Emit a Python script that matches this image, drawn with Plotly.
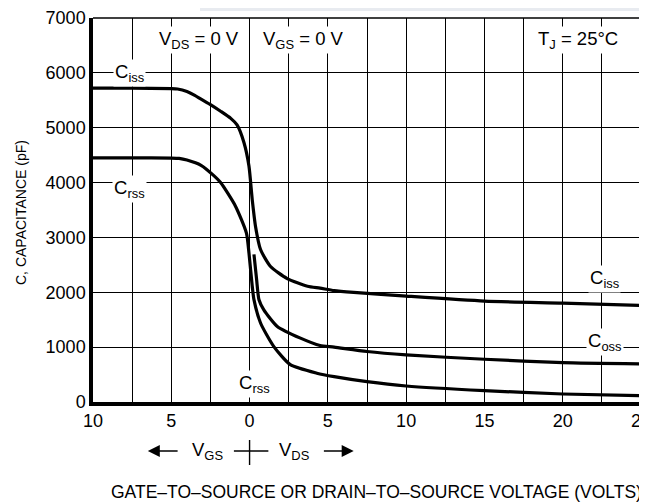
import plotly.graph_objects as go

# ---- data (signed voltage: negative = V_GS side, positive = V_DS side) ----
ciss_v = [-10, -7.5, -5, -4.6, -4, -3.5, -3.1, -2.5, -1.85, -1.2, -0.8, -0.36, -0.04, 0.17, 0.38, 0.7, 1.34, 2.4, 3.7, 4.5, 5.4, 6.65, 10, 15, 20, 25]
ciss_c = [5720, 5720, 5712, 5705, 5660, 5590, 5520, 5420, 5300, 5170, 5050, 4730, 4300, 3690, 3200, 2780, 2470, 2250, 2110, 2075, 2030, 1998, 1930, 1840, 1803, 1760]

crss_v = [-10, -7.5, -5, -4.5, -4, -3.1, -2.3, -1.85, -0.9, -0.2, -0.04, 0.17, 0.28, 0.7, 1.55, 2.6, 4.3, 5.4, 7.5, 10, 15, 20, 25]
crss_c = [4450, 4450, 4447, 4440, 4410, 4315, 4130, 4000, 3570, 3080, 2720, 2110, 1865, 1440, 1010, 680, 525, 462, 371, 292, 207, 146, 115]

coss_v = [0.28, 0.45, 0.6, 0.91, 1.77, 3.25, 4.5, 5.4, 7.5, 10, 15, 20, 25]
coss_c = [2690, 2230, 1865, 1680, 1377, 1164, 1030, 1000, 920, 859, 779, 718, 695]

x_tickvals = [-10, -7.5, -5, -2.5, 0, 2.5, 5, 7.5, 10, 12.5, 15, 17.5, 20, 22.5, 25]
x_ticktext = ["10", " ", "5", " ", "0", " ", "5", " ", "10", " ", "15", " ", "20", " ", "25"]
y_tickvals = [0, 1000, 2000, 3000, 4000, 5000, 6000, 7000]
y_ticktext = ["0", "1000", "2000", "3000", "4000", "5000", "6000", "7000"]

FONT = "Liberation Sans, Arial, sans-serif"

fig = go.Figure()
for v, c in [(ciss_v, ciss_c), (crss_v, crss_c), (coss_v, coss_c)]:
    fig.add_trace(go.Scatter(x=v, y=c, mode="lines",
                             line=dict(color="black", width=3.2, shape="spline", smoothing=0.6),
                             showlegend=False, hoverinfo="skip"))

# page has an 8px body margin: figure occupies page px 8..647 / 8..503
fig.update_layout(
    template="none",
    width=639, height=495, autosize=False,
    margin=dict(l=85, r=6, t=10, b=101),
    paper_bgcolor="white", plot_bgcolor="white",
    font=dict(family=FONT, size=18, color="black"),
    xaxis=dict(range=[-10, 25], tickvals=x_tickvals, ticktext=x_ticktext,
               showgrid=True, gridcolor="black", gridwidth=1.2, zeroline=False,
               showline=True, linecolor="black", linewidth=3.5, ticks="",
               ticklabeloverflow="allow"),
    yaxis=dict(range=[0, 7000], tickvals=y_tickvals, ticktext=y_ticktext,
               showgrid=True, gridcolor="black", gridwidth=1.2, zeroline=False,
               showline=True, linecolor="black", linewidth=3.5, ticks=""),
)

# top and right border (thin)
fig.add_shape(type="line", xref="paper", yref="paper", x0=0, x1=1, y0=1, y1=1,
              line=dict(color="black", width=1.6))
fig.add_shape(type="line", xref="paper", yref="paper", x0=1, x1=1, y0=0, y1=1,
              line=dict(color="black", width=1.6))

# faint header bar of the source page
fig.add_shape(type="rect", xref="paper", yref="paper",
              x0=(200 - 93) / 548, x1=(645 - 93) / 548, y0=1 + 7 / 384, y1=1 + 18 / 384,
              line=dict(width=0), fillcolor="#e8ebf0")

# curve / condition labels (white background)
labels = [
    ("C<sub>iss</sub>", -7.7, 6000),
    ("C<sub>rss</sub>", -7.7, 3880),
    ("V<sub>DS</sub> = 0 V", -3.2, 6600),
    ("V<sub>GS</sub> = 0 V", 3.45, 6600),
    ("T<sub>J</sub> = 25°C", 20.95, 6600),
    ("C<sub>iss</sub>", 22.65, 2250),
    ("C<sub>oss</sub>", 22.7, 1100),
    ("C<sub>rss</sub>", 0.3, 330),
]
for txt, x, y in labels:
    fig.add_annotation(x=x, y=y, xref="x", yref="y", text=txt, showarrow=False,
                       bgcolor="white", borderpad=1, font=dict(size=18.5, family=FONT))

# V_GS / V_DS direction legend below axis
yb = (402 - 451) / 384
fig.add_annotation(xref="x", yref="paper", x=-6.5, y=yb, ax=-4.5, ay=0, axref="x", ayref="pixel",
                   text="", showarrow=True, arrowhead=2, arrowsize=1.5, arrowwidth=1.6, arrowcolor="black")
fig.add_annotation(xref="x", yref="paper", x=6.65, y=yb, ax=4.65, ay=0, axref="x", ayref="pixel",
                   text="", showarrow=True, arrowhead=2, arrowsize=1.5, arrowwidth=1.6, arrowcolor="black")
fig.add_annotation(xref="x", yref="paper", x=-2.7, y=yb, text="V<sub>GS</sub>", showarrow=False,
                   xanchor="center", yanchor="middle", font=dict(size=18.5, family=FONT))
fig.add_annotation(xref="x", yref="paper", x=2.9, y=yb, text="V<sub>DS</sub>", showarrow=False,
                   xanchor="center", yanchor="middle", font=dict(size=18.5, family=FONT))
fig.add_shape(type="line", xref="x", yref="paper", x0=-1.0, x1=1.2, y0=yb, y1=yb,
              line=dict(color="black", width=1.4))
fig.add_shape(type="line", xref="x", yref="paper", x0=0, x1=0,
              y0=(402 - 440) / 384, y1=(402 - 465) / 384, line=dict(color="black", width=1.4))

# axis titles
fig.add_annotation(xref="paper", yref="paper", x=(21 - 93) / 548, y=(402 - 213) / 384,
                   xanchor="center", yanchor="middle",
                   text="C, CAPACITANCE (pF)", textangle=-90, showarrow=False,
                   font=dict(size=14, family=FONT))
fig.add_annotation(xref="paper", yref="paper", x=(376 - 93) / 548, y=(402 - 492) / 384,
                   xanchor="center", yanchor="middle",
                   text="GATE–TO–SOURCE OR DRAIN–TO–SOURCE VOLTAGE (VOLTS)", showarrow=False,
                   font=dict(size=17.5, family=FONT))

fig.write_html("out.html")
